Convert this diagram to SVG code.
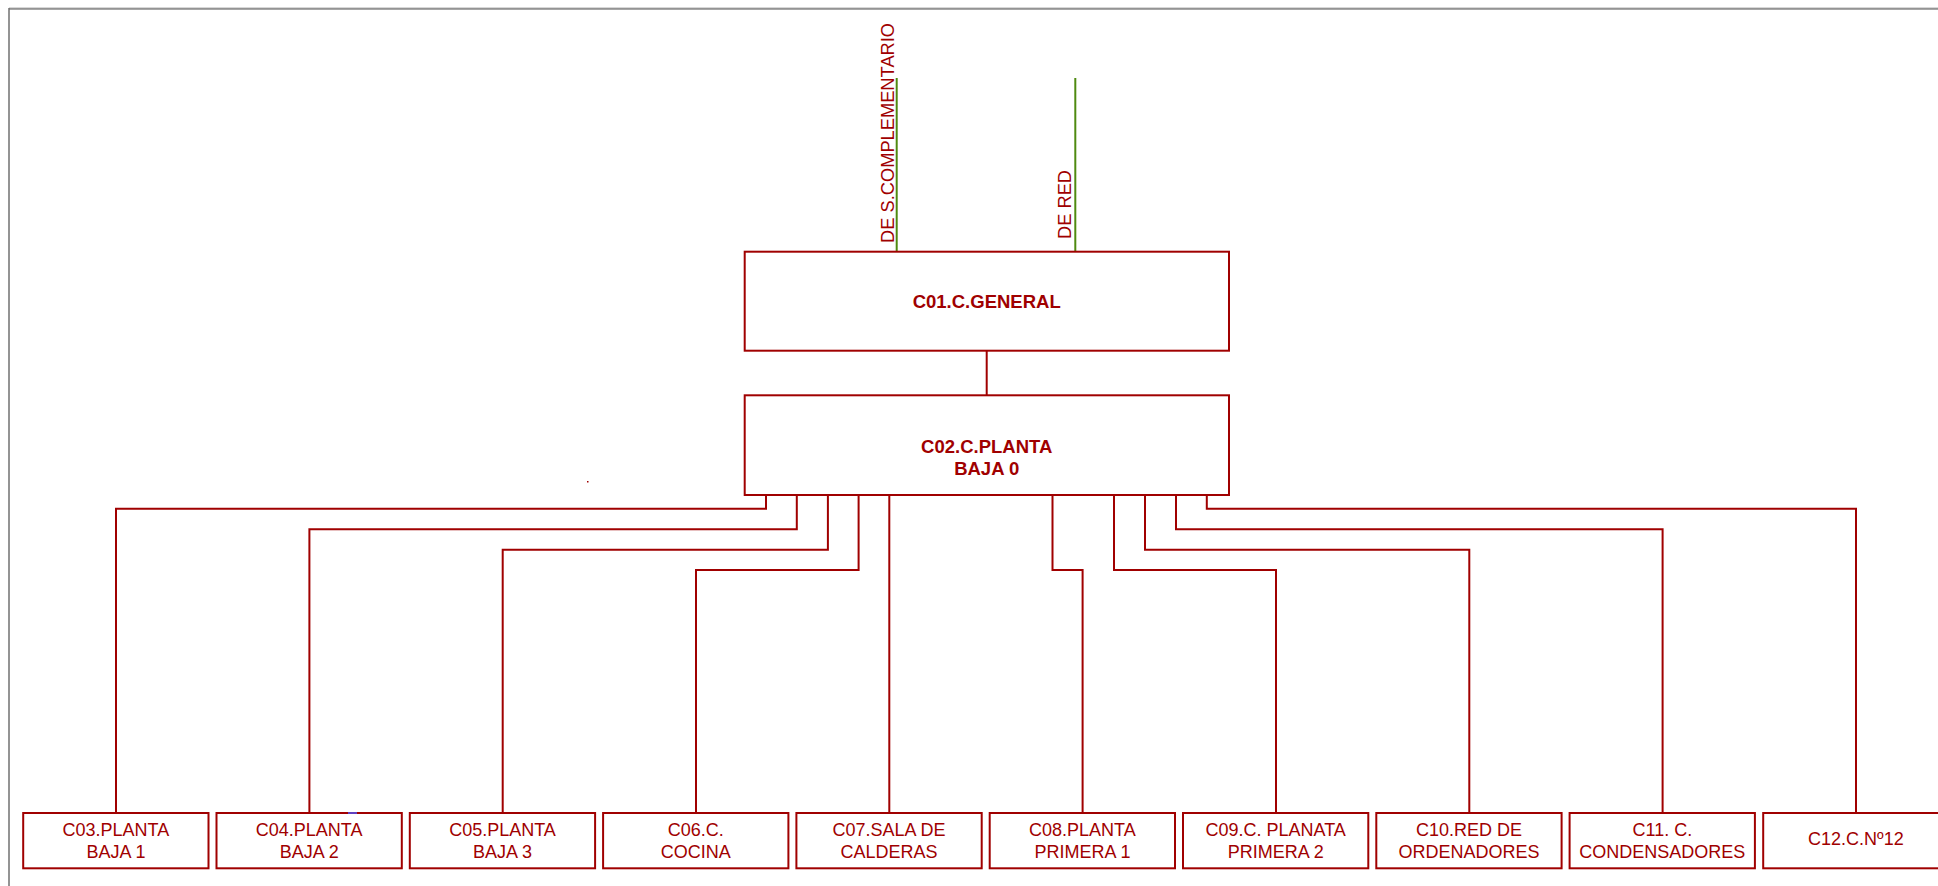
<svg xmlns="http://www.w3.org/2000/svg" width="1938" height="886" viewBox="0 0 1938 886">
<style>
.box{fill:#ffffff;stroke:#a00000;stroke-width:2}
.wire{fill:none;stroke:#a00000;stroke-width:2}
.feed{fill:none;stroke:#4f8a10;stroke-width:2}
.t{font-family:"Liberation Sans",Arial,sans-serif;font-size:18px;fill:#a00000;text-anchor:middle}
.tb{font-family:"Liberation Sans",Arial,sans-serif;font-size:18.5px;font-weight:bold;fill:#a00000;text-anchor:middle}
.tv{font-family:"Liberation Sans",Arial,sans-serif;font-size:18.3px;fill:#a00000}
</style>
<rect width="1938" height="886" fill="#ffffff"/>
<g id="frame">
<line x1="9" y1="8" x2="1938" y2="8" stroke="#b0b0b0" stroke-width="1"/>
<line x1="9" y1="9" x2="1938" y2="9" stroke="#505050" stroke-width="1"/>
<line x1="9" y1="8" x2="9" y2="886" stroke="#707070" stroke-width="1.5"/>
</g>
<g id="feeds">
<line class="feed" x1="896.7" y1="78" x2="896.7" y2="252"/>
<line class="feed" x1="1075.3" y1="78" x2="1075.3" y2="252"/>
<text class="tv" transform="translate(894,243) rotate(-90)">DE S.COMPLEMENTARIO</text>
<text class="tv" transform="translate(1071,239) rotate(-90)">DE RED</text>
</g>
<g id="connectors">
<path class="wire" d="M986.7,351 V395"/>
<path class="wire" d="M766,495 V508.7 H116 V813"/>
<path class="wire" d="M796.8,495 V529.3 H309.4 V813"/>
<path class="wire" d="M827.9,495 V549.7 H502.7 V813"/>
<path class="wire" d="M858.6,495 V570 H696 V813"/>
<path class="wire" d="M889.3,495 V813"/>
<path class="wire" d="M1052.5,495 V570 H1082.6 V813"/>
<path class="wire" d="M1114,495 V570 H1276 V813"/>
<path class="wire" d="M1145,495 V549.7 H1469.3 V813"/>
<path class="wire" d="M1176,495 V529.3 H1662.6 V813"/>
<path class="wire" d="M1206.8,495 V508.7 H1856 V813"/>
</g>
<g id="C01">
<rect class="box" x="744.7" y="251.7" width="484.3" height="99"/>
<text class="tb" x="986.7" y="308.3">C01.C.GENERAL</text>
</g>
<g id="C02">
<rect class="box" x="744.7" y="395.3" width="484.3" height="99.7"/>
<text class="tb" x="986.7" y="452.7">C02.C.PLANTA</text>
<text class="tb" x="986.7" y="475">BAJA 0</text>
</g>
<g id="C03">
<rect class="box" x="23.2" y="813" width="185.3" height="55.3"/>
<text class="t" x="115.9" y="836">C03.PLANTA</text>
<text class="t" x="115.9" y="858.3">BAJA 1</text>
</g>
<g id="C04">
<rect class="box" x="216.5" y="813" width="185.3" height="55.3"/>
<line x1="348" y1="813" x2="357" y2="813" stroke="#6040c0" stroke-width="2"/>
<text class="t" x="309.2" y="836">C04.PLANTA</text>
<text class="t" x="309.2" y="858.3">BAJA 2</text>
</g>
<g id="C05">
<rect class="box" x="409.8" y="813" width="185.3" height="55.3"/>
<text class="t" x="502.5" y="836">C05.PLANTA</text>
<text class="t" x="502.5" y="858.3">BAJA 3</text>
</g>
<g id="C06">
<rect class="box" x="603.1" y="813" width="185.3" height="55.3"/>
<text class="t" x="695.8" y="836">C06.C.</text>
<text class="t" x="695.8" y="858.3">COCINA</text>
</g>
<g id="C07">
<rect class="box" x="796.4" y="813" width="185.3" height="55.3"/>
<text class="t" x="889.1" y="836">C07.SALA DE</text>
<text class="t" x="889.1" y="858.3">CALDERAS</text>
</g>
<g id="C08">
<rect class="box" x="989.7" y="813" width="185.3" height="55.3"/>
<text class="t" x="1082.4" y="836">C08.PLANTA</text>
<text class="t" x="1082.4" y="858.3">PRIMERA 1</text>
</g>
<g id="C09">
<rect class="box" x="1183" y="813" width="185.3" height="55.3"/>
<text class="t" x="1275.7" y="836">C09.C. PLANATA</text>
<text class="t" x="1275.7" y="858.3">PRIMERA 2</text>
</g>
<g id="C10">
<rect class="box" x="1376.3" y="813" width="185.3" height="55.3"/>
<text class="t" x="1469" y="836">C10.RED DE</text>
<text class="t" x="1469" y="858.3">ORDENADORES</text>
</g>
<g id="C11">
<rect class="box" x="1569.6" y="813" width="185.3" height="55.3"/>
<text class="t" x="1662.3" y="836">C11. C.</text>
<text class="t" x="1662.3" y="858.3">CONDENSADORES</text>
</g>
<g id="C12">
<rect class="box" x="1763.2" y="813" width="185.3" height="55.3"/>
<text class="t" x="1855.9" y="845">C12.C.Nº12</text>
</g>
<rect x="587" y="481" width="1.5" height="1.5" fill="#a00000"/>
</svg>
